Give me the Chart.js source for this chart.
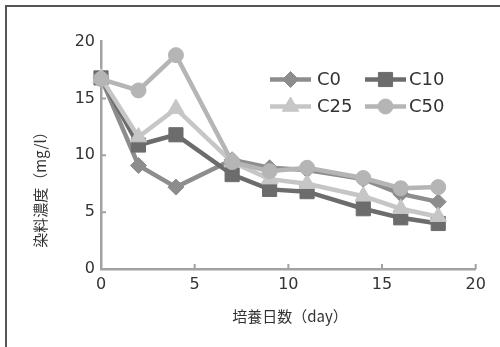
<!DOCTYPE html>
<html><head><meta charset="utf-8">
<script src="https://cdn.jsdelivr.net/npm/chart.js@4/dist/chart.umd.min.js"></script>
<style>html,body{margin:0;padding:0;background:#fff}#wrap{width:500px;height:347px;position:relative}canvas{display:block}</style>
</head><body><div id="wrap"><canvas id="c" width="500" height="347"></canvas></div>
<script>
const days = [0, 2, 4, 7, 9, 11, 14, 16, 18];
const seriesNames = ['C0', 'C10', 'C25', 'C50'];
const c0  = [16.8, 9.1, 7.2, 9.6, 8.9, 8.7, 7.9, 6.6, 5.9];
const c10 = [16.8, 10.9, 11.8, 8.3, 7.0, 6.8, 5.3, 4.5, 4.0];
const c25 = [16.8, 11.6, 14.1, 9.4, 7.9, 7.5, 6.4, 5.3, 4.6];
const c50 = [16.7, 15.7, 18.8, 9.4, 8.6, 8.9, 8.0, 7.1, 7.2];
const xTickValues = [0, 5, 10, 15, 20];
const yTickValues = [0, 5, 10, 15, 20];
const xTitle = '培養日数（day）';
const yTitle = '染料濃度（mg/l）';

const seriesValues = [c0, c10, c25, c50];
const styles = [
  {color: '#8d8d8d', point: 'rectRot', radius: 8, order: 3},
  {color: '#6c6c6c', point: 'rect', radius: 10, order: 2},
  {color: '#c6c6c6', point: 'triangle', radius: 9.5, order: 1},
  {color: '#b5b5b5', point: 'circle', radius: 7.5, order: 0}
];
const TXT = '#333';
const AXIS = '#a2a2a2';

const datasets = seriesNames.map((name, i) => ({
  label: name,
  data: days.map((d, j) => ({x: d, y: seriesValues[i][j]})),
  borderColor: styles[i].color,
  backgroundColor: styles[i].color,
  pointBackgroundColor: styles[i].color,
  pointBorderColor: styles[i].color,
  pointBorderWidth: 1,
  borderWidth: 4.5,
  pointStyle: styles[i].point,
  pointRadius: styles[i].radius,
  tension: 0,
  clip: false,
  order: styles[i].order
}));

function drawMarker(ctx, style, radius, x, y, color) {
  ctx.save();
  ctx.fillStyle = color; ctx.strokeStyle = color; ctx.lineWidth = 1;
  if (Chart.helpers && Chart.helpers.drawPoint) {
    Chart.helpers.drawPoint(ctx, {pointStyle: style, radius: radius, borderWidth: 1, rotation: 0}, x, y);
  }
  ctx.restore();
}

const framePlugin = {
  id: 'frame',
  beforeDraw(chart) {
    const ctx = chart.ctx;
    ctx.save();
    ctx.fillStyle = '#fff';
    ctx.fillRect(0, 0, chart.width, chart.height);
    ctx.strokeStyle = '#555';
    ctx.lineWidth = 2;
    ctx.beginPath();
    ctx.moveTo(6, 347); ctx.lineTo(6, 6); ctx.lineTo(500, 6);
    ctx.stroke();
    ctx.restore();
  }
};

const tickPlugin = {
  id: 'inwardTicks',
  beforeDatasetsDraw(chart) {
    const ctx = chart.ctx, xs = chart.scales.x, ys = chart.scales.y, a = chart.chartArea;
    ctx.save();
    ctx.strokeStyle = AXIS; ctx.lineWidth = 2;
    ctx.beginPath();
    xTickValues.slice(1).forEach(v => { const p = xs.getPixelForValue(v); ctx.moveTo(p, a.bottom); ctx.lineTo(p, a.bottom - 5); });
    yTickValues.slice(1, -1).forEach(v => { const p = ys.getPixelForValue(v); ctx.moveTo(a.left, p); ctx.lineTo(a.left + 5, p); });
    ctx.stroke();
    ctx.restore();
  },
  afterDraw(chart) {
    const ctx = chart.ctx;
    ctx.save();
    ctx.fillStyle = TXT;
    ctx.font = '15px "Noto Sans CJK JP"';
    ctx.textAlign = 'center'; ctx.textBaseline = 'middle';
    ctx.fillText(xTitle, 290, 316);
    ctx.translate(40.5, 186);
    ctx.rotate(-Math.PI / 2);
    ctx.fillText(yTitle, 0, 0);
    ctx.restore();

    // legend
    const lineX0 = [270, 365], lineX1 = [311, 406], textX = [317, 409], rowY = [79.5, 106.5];
    chart.data.datasets.forEach((ds, i) => {
      const col = i % 2, row = Math.floor(i / 2);
      const y = rowY[row];
      ctx.save();
      ctx.strokeStyle = ds.borderColor; ctx.lineWidth = ds.borderWidth; ctx.lineCap = 'butt';
      ctx.beginPath(); ctx.moveTo(lineX0[col], y); ctx.lineTo(lineX1[col], y); ctx.stroke();
      ctx.restore();
      drawMarker(ctx, ds.pointStyle, ds.pointRadius, (lineX0[col] + lineX1[col]) / 2, y, ds.borderColor);
      ctx.save();
      ctx.fillStyle = TXT; ctx.font = '18px "DejaVu Sans"';
      ctx.textAlign = 'left'; ctx.textBaseline = 'middle';
      ctx.fillText(ds.label, textX[col], y + 1);
      ctx.restore();
    });
  }
};

new Chart(document.getElementById('c'), {
  type: 'line',
  data: {datasets},
  options: {
    responsive: false,
    devicePixelRatio: 1,
    animation: false,
    layout: {padding: {top: 41.5, right: 24.3, left: 0, bottom: 0}},
    plugins: {legend: {display: false}, tooltip: {enabled: false}, title: {display: false}},
    scales: {
      x: {
        type: 'linear', min: 0, max: 20,
        afterBuildTicks: s => { s.ticks = xTickValues.map(v => ({value: v})); },
        afterFit: s => { s.height = 78; },
        ticks: {font: {family: 'DejaVu Sans', size: 16}, color: TXT, padding: 6, maxRotation: 0},
        grid: {display: true, drawOnChartArea: false, drawTicks: false, color: AXIS},
        border: {display: true, color: AXIS, width: 2.5}
      },
      y: {
        type: 'linear', min: 0, max: 20,
        afterBuildTicks: s => { s.ticks = yTickValues.map(v => ({value: v})); },
        afterFit: s => { s.width = 101; },
        ticks: {font: {family: 'DejaVu Sans', size: 16}, color: TXT, padding: 6},
        grid: {display: true, drawOnChartArea: false, drawTicks: false, color: AXIS},
        border: {display: true, color: AXIS, width: 2.5}
      }
    }
  },
  plugins: [framePlugin, tickPlugin]
});
</script>
</body></html>
